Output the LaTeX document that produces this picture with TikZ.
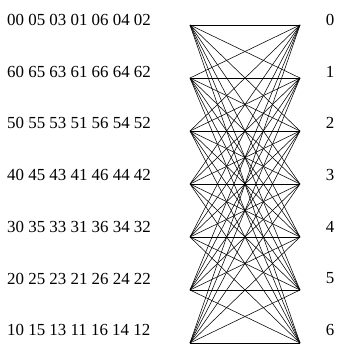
\documentclass[tikz,border=0pt]{standalone}
\usepackage{fontspec}
\setmainfont{Liberation Serif}
\usepackage{tikz}

\begin{document}
\begin{tikzpicture}[x=1pt,y=-1pt,
  rowtext/.style={anchor=west,inner sep=0pt,font=\fontsize{16.9}{18}\selectfont},
  idxtext/.style={inner sep=0pt,font=\fontsize{16.9}{18}\selectfont},
  edge/.style={line width=0.55pt}]
  \useasboundingbox (0,0) rectangle (337,348);

  % Row texts on the left and row indices on the right
  \node[rowtext] (t0) at (7,20)    {00 05 03 01 06 04 02};
  \node[rowtext] (t1) at (7,71.7)  {60 65 63 61 66 64 62};
  \node[rowtext] (t2) at (7,123.4) {50 55 53 51 56 54 52};
  \node[rowtext] (t3) at (7,175.1) {40 45 43 41 46 44 42};
  \node[rowtext] (t4) at (7,226.8) {30 35 33 31 36 34 32};
  \node[rowtext] (t5) at (7,278.5) {20 25 23 21 26 24 22};
  \node[rowtext] (t6) at (7,330.2) {10 15 13 11 16 14 12};
  \foreach \i in {0,...,6}
    \node[idxtext] (n\i) at (330,20+51.7*\i) {\i};

  % Vertices of the two columns
  \foreach \i in {0,...,6} {
    \coordinate (L\i) at (190,25+53*\i);
    \coordinate (R\i) at (300,25+53*\i);
  }

  % Every left vertex joined to every right vertex
  \foreach \i in {0,...,6}
    \foreach \j in {0,...,6}
      \draw[edge] (L\i) -- (R\j);
\end{tikzpicture}
\end{document}
